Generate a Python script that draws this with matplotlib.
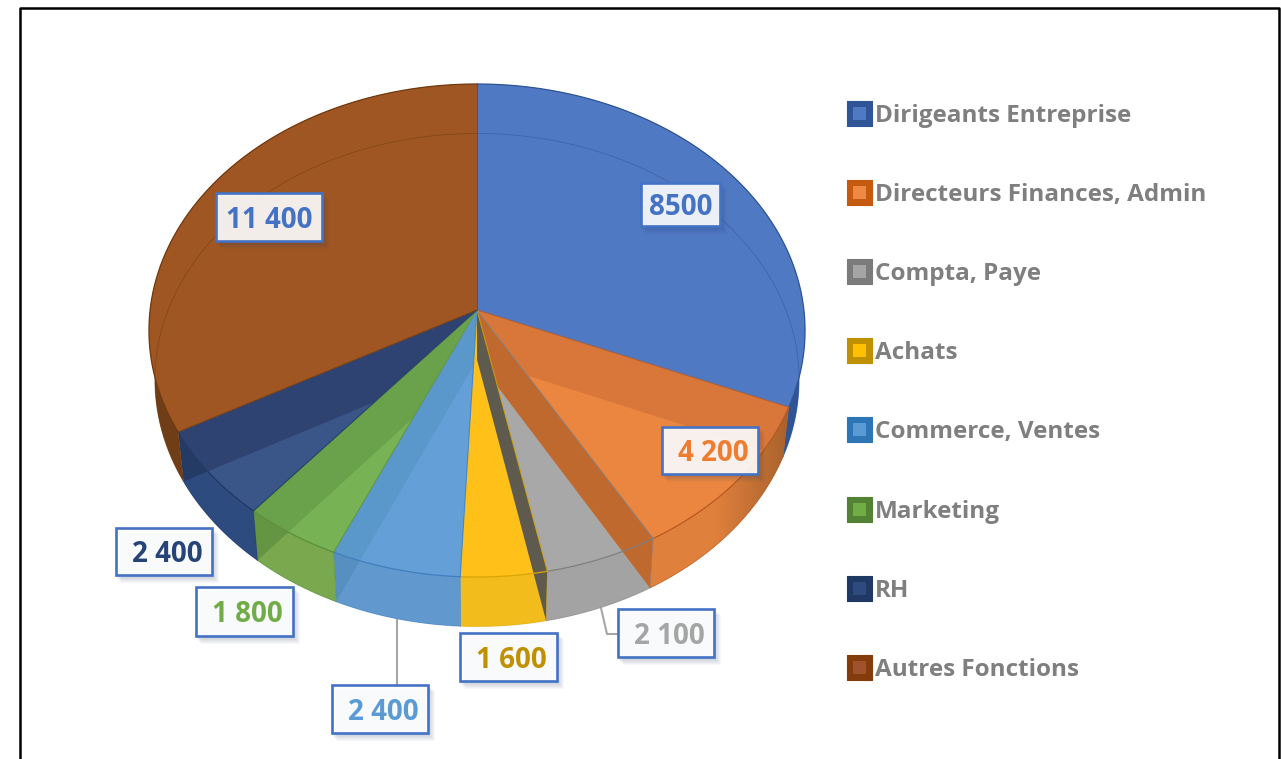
import numpy as np
import matplotlib
matplotlib.use("Agg")
import matplotlib.pyplot as plt
from matplotlib.colors import LinearSegmentedColormap
from matplotlib.legend_handler import HandlerBase
from matplotlib.patches import Patch, Polygon, Rectangle
from matplotlib.path import Path

# Legend entries
categories = ["Dirigeants Entreprise", "Directeurs Finances, Admin", "Compta, Paye", "Achats",
              "Commerce, Ventes", "Marketing", "RH", "Autres Fonctions"]
# Printed labels (they do not follow the drawn slice sizes in the source picture)
value_labels = ["8500", "4 200", "2 100", "1 600", "2 400", "1 800", "2 400", "11 400"]
# Slice sizes as drawn (degrees of the pie)
slice_sizes = [112.6, 37.4, 18.6, 14.1, 21.2, 15.9, 21.6, 118.6]

face_dark = ["#5079C4", "#D9773A", "#A8A8A8", "#FFC119", "#5A97CB", "#69A24A", "#2F4372", "#A05622"]
face_light = ["#5079C4", "#EB8640", "#A8A8A8", "#FFC119", "#659FD8", "#77B255", "#3A5688", "#A05622"]
side_main = ["#2F5597", "#E0803D", "#A3A3A3", "#F3BC1D", "#6199CF", "#79A84F", "#2E4B80", "#6F3E17"]
side_dark = ["#2F5597", "#C8692F", "#A3A3A3", "#F3BC1D", "#568FC0", "#639543", "#243B66", "#6F3E17"]
line_cols = ["#2F5597", "#B9581F", "#808080", "#D9A406", "#3F7FBD", "#5B8F3C", "#1F3864", "#6F3A12"]
legend_outer = ["#2F5597", "#C55A11", "#7B7B7B", "#BF9000", "#2E75B6", "#548235", "#1F3864", "#843C0C"]
legend_inner = ["#5079C4", "#EF8A46", "#A5A5A5", "#FFC000", "#5B9BD5", "#70AD47", "#2F4A7C", "#A0522D"]
text_cols = ["#4472C4", "#ED7D31", "#A5A5A5", "#BF9000", "#5B9BD5", "#70AD47", "#264478", "#4472C4"]

# Pie geometry, figure pixels
cx, cy = 477, 310
rx, ry, persp = 326.9, 244.8, 0.0832
depth = 49.5
low_scale = 0.982  # bottom rim is a bit narrower than the top one

# Label boxes: left, top, right, bottom
boxes = [(641, 183, 720, 226), (662, 427, 758, 474), (618, 609, 714, 657), (460, 633, 557, 681),
         (332, 685, 428, 733), (196, 587, 293, 636), (116, 528, 212, 575), (216, 193, 322, 241)]

plt.rcParams['font.family'] = ['Open Sans', 'DejaVu Sans']
fig = plt.figure(figsize=(12.81, 7.59), dpi=100)
ax = fig.add_axes([0, 0, 1, 1])


def rim(a0, a1, low=False):
    t = np.radians(np.linspace(a0, a1, 120))
    w = 1 + persp * np.cos(t)
    sx = low_scale if low else 1.0
    dy = depth if low else 0.0
    return np.column_stack([cx + sx * rx * np.sin(t) / w, cy - ry * np.cos(t) / w + dy])


def wedge(a0, a1, low=False):
    return np.vstack([[cx, cy + (depth if low else 0.0)], rim(a0, a1, low)])


edges = np.concatenate([[0], np.cumsum(slice_sizes)])

# side bands first, each one clipped to itself
for i in range(len(slice_sizes)):
    a0, a1 = edges[i], edges[i + 1]
    band = np.vstack([rim(a0, a1), rim(a0, a1, True)[::-1]])
    ax.add_patch(Polygon(band, fc=side_dark[i], ec='none', zorder=1))
    p = ax.add_patch(Polygon(wedge(a0, a1, True), fc=side_main[i], ec='none', zorder=2))
    p.set_clip_path(Path(band), ax.transData)
    if i == 1:
        # orange side gets darker toward the right
        cmap = LinearSegmentedColormap.from_list('side', ["#E0803D", "#E0803D", "#A8622C"])
        im = ax.imshow(np.linspace(0, 1, 128).reshape(1, -1), cmap=cmap, extent=[640, 790, 600, 400],
                       aspect='auto', zorder=2.5)
        im.set_clip_path(Path(band), ax.transData)

# top faces, lighter where the bottom face shows through
for i in range(len(slice_sizes)):
    a0, a1 = edges[i], edges[i + 1]
    top = wedge(a0, a1)
    ax.add_patch(Polygon(top, fc=face_dark[i], ec='none', zorder=3))
    p = ax.add_patch(Polygon(wedge(a0, a1, True), fc=face_light[i], ec='none', zorder=4))
    p.set_clip_path(Path(top), ax.transData)

# inner walls seen through orange and grey
wall_cols = {1: "#C0692F", 2: "#5E5B4E"}
for i, col in wall_cols.items():
    r = rim(edges[i + 1], edges[i + 1])[0]
    s = rim(edges[i + 1], edges[i + 1], True)[0]
    wall = [[cx, cy], [cx, cy + depth], s, r]
    ax.add_patch(Polygon(wall, fc=col, ec='none', zorder=5))

# outlines
for i in range(len(slice_sizes)):
    a0, a1 = edges[i], edges[i + 1]
    xy = rim(a0, a1)
    low = rim(a0, a1, True)
    ax.plot(xy[:, 0], xy[:, 1], color=line_cols[i], lw=0.9, zorder=6)
    ax.plot(low[:, 0], low[:, 1], color=line_cols[i], lw=0.6, alpha=0.55, zorder=6)
    ax.plot([cx, xy[0, 0]], [cy, xy[0, 1]], color=line_cols[i], lw=0.8, alpha=0.8, zorder=6)
    ax.plot([xy[0, 0], low[0, 0]], [xy[0, 1], low[0, 1]], color=line_cols[i], lw=0.6, alpha=0.5, zorder=6)

# leader lines
ax.plot([397, 397], [620, 685], color='#A6A6A6', lw=1.5, zorder=1)
ax.plot([601, 607, 618], [608, 634, 634], color='#A6A6A6', lw=1.5, zorder=1)

# value labels
for i, (l, t, r, b) in enumerate(boxes):
    for off in [8, 7, 6, 5, 4, 3, 2]:
        ax.add_patch(Rectangle((l + off - 3, t + off - 2), r - l + 2, b - t + 2, fc='#1F3864', ec='none', alpha=0.035, zorder=7))
    ax.add_patch(Rectangle((l, t), r - l, b - t, fc=(1, 1, 1, 0.9), ec='#4472C4', lw=1.9, zorder=8))
    ax.text((l + r) / 2 + (0 if i == 0 or i == 7 else 3), (t + b) / 2 + 3, value_labels[i], color=text_cols[i],
            fontsize=20, fontweight='bold', ha='center', va='center', zorder=9)


class SwatchHandler(HandlerBase):
    def create_artists(self, legend, orig_handle, xdescent, ydescent, width, height, fontsize, trans):
        s = 25
        y0 = height / 2 - s / 2 * 0.72 - 1.8
        outer = Rectangle((0, y0), s * 0.72, s * 0.72, fc=orig_handle.get_edgecolor(), ec=orig_handle.get_edgecolor(),
                          lw=0.8, joinstyle='round', transform=trans)
        inner = Rectangle((6 * 0.72, y0 + 6 * 0.72), 13 * 0.72, 13 * 0.72, fc=orig_handle.get_facecolor(), ec='none', transform=trans)
        return [outer, inner]


handles = [Patch(fc=legend_inner[i], ec=legend_outer[i]) for i in range(len(categories))]
leg = ax.legend(handles, categories, handler_map={Patch: SwatchHandler()}, loc='upper left',
                bbox_to_anchor=(847, 102.5), bbox_transform=ax.transData, frameon=False, borderpad=0,
                borderaxespad=0, labelcolor='#7F7F7F', labelspacing=2.22,
                handlelength=1.02, handleheight=1.0, handletextpad=0.13, prop={'weight': 'bold', 'size': 17.5})
leg.set_zorder(10)

# outer frame, runs off the bottom of the picture
ax.plot([20, 20, 1279, 1279], [759, 8, 8, 759], color='black', lw=1.8, zorder=11)

ax.set_xlim(0, 1281)
ax.set_ylim(759, 0)
ax.axis('off')

fig.savefig("out.png", dpi=100)
